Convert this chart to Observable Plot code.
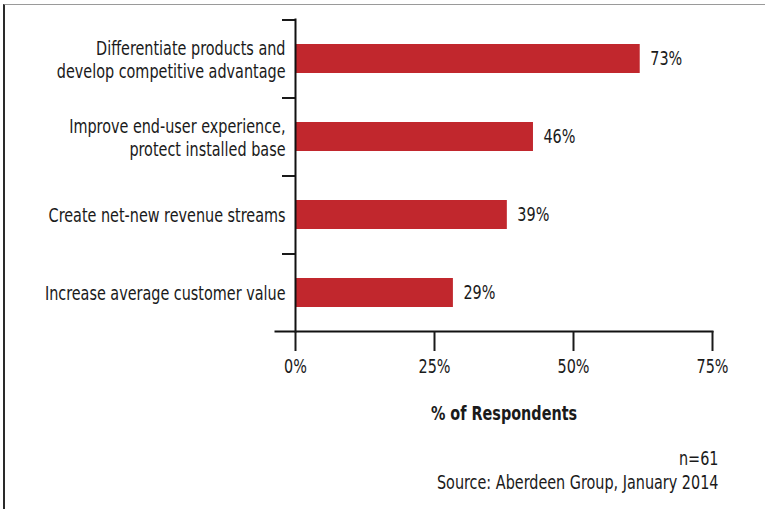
<!DOCTYPE html>
<html><head><meta charset="utf-8">
<script src="https://cdn.jsdelivr.net/npm/d3@7"></script>
<script src="https://cdn.jsdelivr.net/npm/@observablehq/plot@0.6"></script>
<style>
body{margin:0;background:#fff;}
#wrap{position:relative;width:765px;height:509px;overflow:hidden;}
#border{position:absolute;left:3px;top:4px;width:800px;height:600px;border-left:2px solid #2a2a2a;border-top:1px solid #9a9a9a;}
#chart{position:absolute;left:0;top:0;}
</style></head><body>
<div id="wrap"><div id="border"></div><div id="chart"></div></div>
<script>
const categories = [
  "Differentiate products and\ndevelop competitive advantage",
  "Improve end-user experience,\nprotect installed base",
  "Create net-new revenue streams",
  "Increase average customer value"
];
// bar lengths as drawn in the reference (in % of the axis)
const barValues = [62, 42.8, 38.1, 28.4];
// labels printed beside the bars
const valueLabels = ["73%", "46%", "39%", "29%"];
const xTicks = [0, 25, 50, 75];
const xTickLabels = ["0%", "25%", "50%", "75%"];
const xTitle = "% of Respondents";
const notes = ["n=61", "Source: Aberdeen Group, January 2014"];

const data = categories.map((c, i) => ({category: c, value: barValues[i], label: valueLabels[i]}));
const font = '"Liberation Sans Narrow","DejaVu Sans Condensed",sans-serif';
const narrow = 0.8; // horizontal squeeze to mimic a condensed face

const plot = Plot.plot({
  width: 765, height: 509,
  marginLeft: 295, marginRight: 53, marginTop: 19, marginBottom: 178,
  style: {fontFamily: font, fontSize: "20px", color: "#1a1a1a", background: "transparent"},
  x: {domain: [0, 75]},
  y: {domain: categories, paddingInner: 0.63, paddingOuter: 0.315},
  marks: [
    Plot.barX(data, {x: "value", y: "category", fill: "#c1272d"}),
    Plot.text(data, {x: "value", y: "category", text: "label", textAnchor: "start", dx: 10, fontSize: 20, fill: "#1a1a1a"}),
    Plot.axisY({tickSize: 0, tickPadding: 10, fontSize: 20, lineHeight: 1.15, label: null}),
    Plot.axisY({tickSize: 13, text: null, dy: -39, strokeWidth: 2, label: null}),
    Plot.frame({anchor: "left", strokeWidth: 2, stroke: "#111"}),
    Plot.frame({anchor: "bottom", strokeWidth: 2, stroke: "#111", insetLeft: -20}),
    Plot.axisX({ticks: xTicks, tickFormat: d => xTickLabels[xTicks.indexOf(d)], tickSize: 20, tickPadding: 7, strokeWidth: 2, fontSize: 20, label: null}),
    Plot.text([xTitle], {frameAnchor: "bottom", lineAnchor: "middle", dy: 82, fontWeight: "bold", fontSize: 20, fill: "#1a1a1a"}),
    Plot.text([notes[0]], {frameAnchor: "bottom-right", textAnchor: "end", lineAnchor: "middle", dx: 6, dy: 127, fontSize: 20, fill: "#1a1a1a"}),
    Plot.text([notes[1]], {frameAnchor: "bottom-right", textAnchor: "end", lineAnchor: "middle", dx: 6, dy: 151, fontSize: 20, fill: "#1a1a1a"})
  ]
});
// squeeze every text horizontally about its own anchor point
plot.querySelectorAll("text").forEach(t => {
  const xa = t.getAttribute("x");
  const x = xa && /^-?[\d.]+$/.test(xa) ? +xa : 0;
  const tr = t.getAttribute("transform") || "";
  t.setAttribute("transform", `${tr} translate(${x},0) scale(${narrow},1) translate(${-x},0)`);
});
document.getElementById("chart").appendChild(plot);
</script>
</body></html>
